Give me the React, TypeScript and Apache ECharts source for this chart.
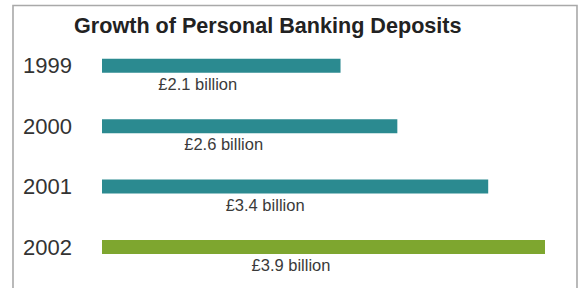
import React, { useEffect, useRef } from "react";
import * as echarts from "echarts";

const titleText = "Growth of Personal Banking Deposits";
const years = ["1999", "2000", "2001", "2002"];
const deposits = [2.1, 2.6, 3.4, 3.9];
const valueLabels = ["£2.1 billion", "£2.6 billion", "£3.4 billion", "£3.9 billion"];
const barColors = ["#2b8a90", "#2b8a90", "#2b8a90", "#7ea62f"];

export default function App() {
  const ref = useRef<HTMLDivElement>(null);
  useEffect(() => {
    if (!ref.current) return;
    const chart = echarts.init(ref.current, null, { renderer: "svg" });
    chart.setOption({
      animation: false,
      backgroundColor: "#ffffff",
      title: {
        text: titleText,
        left: 74,
        top: 14,
        padding: 0,
        textStyle: {
          fontFamily: "Liberation Sans, Arial, sans-serif",
          fontSize: 21.6,
          fontWeight: "bold",
          color: "#222222",
        },
      },
      graphic: [
        {
          type: "rect",
          shape: { x: 13, y: 5.5, width: 564, height: 300 },
          style: { fill: "none", stroke: "#a9a9a9", lineWidth: 1.6 },
          silent: true,
          z: 0,
        },
      ],
      grid: { left: 102, width: 443, top: 35.6, height: 241.6, containLabel: false },
      xAxis: {
        type: "value",
        min: 0,
        max: 3.9,
        show: false,
      },
      yAxis: {
        type: "category",
        data: years,
        inverse: true,
        axisLine: { show: false },
        axisTick: { show: false },
        splitLine: { show: false },
        axisLabel: {
          margin: 30,
          fontFamily: "Liberation Sans, Arial, sans-serif",
          fontSize: 22,
          color: "#333333",
        },
      },
      series: [
        {
          type: "bar",
          barWidth: 14,
          data: deposits.map((v, i) => ({
            value: v,
            itemStyle: { color: barColors[i] },
          })),
          label: {
            show: true,
            position: ["45.6%", 25],
            offset: [-13, 0],
            align: "center",
            verticalAlign: "middle",
            fontFamily: "Liberation Sans, Arial, sans-serif",
            fontSize: 16.5,
            color: "#3a3a3a",
            formatter: (p: any) => valueLabels[p.dataIndex],
          },
        },
      ],
    });
    return () => chart.dispose();
  }, []);
  return (
    <div
      ref={ref}
      style={{ position: "fixed", left: 0, top: 0, width: 580, height: 288 }}
    />
  );
}
